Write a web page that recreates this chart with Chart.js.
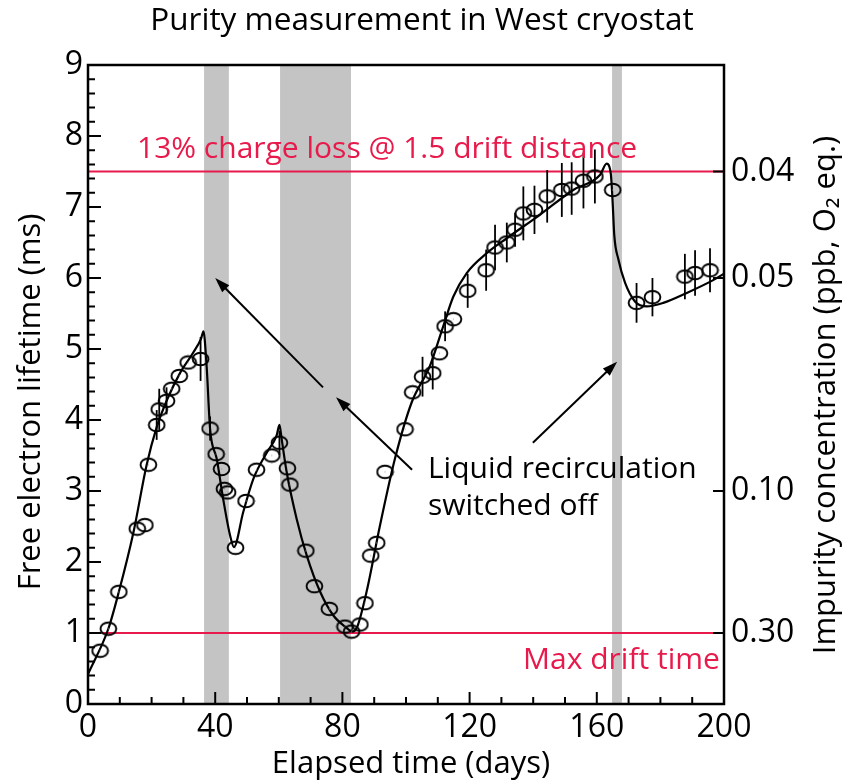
<!DOCTYPE html>
<html lang="en">
<head>
<meta charset="UTF-8">
<title>Purity measurement in West cryostat</title>
<script src="https://cdn.jsdelivr.net/npm/chart.js"></script>
<style>
  html, body { margin: 0; padding: 0; background: #fff; }
  #wrap { width: 848px; height: 781px; }
</style>
</head>
<body>
<div id="wrap"><canvas id="purity"></canvas></div>
<script>
// measured electron lifetime (ms) vs elapsed days, with error bars
const days = [3.8, 6.4, 9.7, 15.5, 17.9, 19.0, 21.6, 22.4, 24.7, 26.3, 28.7, 31.5, 35.4,
  38.4, 40.3, 42.0, 42.9, 43.9, 46.4, 49.7, 53.0, 57.8, 60.2, 62.7, 63.5, 68.5, 71.2, 75.9,
  80.8, 82.9, 85.5, 87.1, 88.9, 90.8, 93.4, 99.7, 102.1, 105.2, 108.4, 110.5, 112.3, 114.9,
  119.4, 125.2, 128.0, 131.7, 134.3, 136.9, 140.4, 144.4, 149.0, 152.1, 155.8, 159.4, 165.0,
  172.5, 177.5, 187.7, 190.9, 195.6];
const lifetime = [0.75, 1.06, 1.58, 2.47, 2.52, 3.37, 3.93, 4.15, 4.27, 4.44, 4.62, 4.81, 4.86,
  3.88, 3.52, 3.31, 3.03, 2.98, 2.20, 2.86, 3.30, 3.50, 3.68, 3.32, 3.09, 2.16, 1.66, 1.34,
  1.09, 1.02, 1.12, 1.42, 2.09, 2.27, 3.27, 3.87, 4.39, 4.61, 4.66, 4.94, 5.32, 5.42,
  5.82, 6.11, 6.43, 6.50, 6.68, 6.91, 6.96, 7.15, 7.24, 7.26, 7.37, 7.43, 7.24,
  5.65, 5.73, 6.02, 6.07, 6.11];
const lifetimeErr = [0, 0, 0, 0, 0, 0, 0.12, 0.2, 0.1, 0, 0, 0, 0.22,
  0.08, 0, 0, 0, 0, 0, 0, 0, 0, 0.08, 0, 0, 0, 0, 0,
  0, 0, 0, 0, 0, 0, 0, 0, 0, 0.19, 0.14, 0, 0.12, 0,
  0.15, 0.2, 0.23, 0.19, 0.15, 0.29, 0.25, 0.28, 0.29, 0.28, 0.3, 0.29, 0,
  0.19, 0.18, 0.23, 0.23, 0.22];

// model curve
const modelDays = [0, 6.4, 9.7, 14.3, 18.4, 21.6, 25, 28.8, 33.1, 35.6, 36.3, 37.3, 38.4, 40.5,
  42.5, 44.7, 45.9, 48.8, 52.0, 56.2, 59.3, 60.2, 60.9, 62.5, 65.6, 68.8, 73.0, 77.1, 81.4, 83,
  84.5, 87.6, 91.8, 96.5, 101.8, 107.5, 111.7, 114.9, 119.1, 125.4, 131.7, 142.1, 152.6, 161.0,
  163.1, 164.4, 165.0, 165.5, 166.8, 168.9, 172.0, 175.7, 180.9, 188.3, 196.6, 200];
const modelLifetime = [0.42, 1.06, 1.58, 2.42, 3.36, 3.9, 4.3, 4.65, 4.95, 5.15, 5.25, 4.76, 3.87, 3.45,
  2.89, 2.37, 2.21, 2.70, 3.17, 3.54, 3.78, 3.93, 3.73, 3.26, 2.61, 2.09, 1.58, 1.25, 1.07, 1.02,
  1.07, 1.58, 2.51, 3.45, 4.25, 4.76, 5.32, 5.74, 6.07, 6.35, 6.56, 6.89, 7.24, 7.45,
  7.61, 7.47, 7.05, 6.6, 6.26, 5.93, 5.67, 5.60, 5.65, 5.79, 5.97, 6.06];

// recirculation switched off (days)
const offStart = [36.5, 60.4, 164.8];
const offEnd = [44.3, 82.7, 167.9];

// right axis: impurity concentration = 0.3 / lifetime
const impurityLabels = ['0.04', '0.05', '0.10', '0.30'];
const impurityAt = [7.5, 6, 3, 1];

const chargeLossLevel = 7.5;
const maxDriftLevel = 1;

const RED = '#e8194b';
const FONT = "'Open Sans', 'Noto Sans', sans-serif";

// open ellipse marker with a faint centre dot
function ellipseMarker() {
  const c = document.createElement('canvas');
  c.width = 19; c.height = 16;
  const g = c.getContext('2d');
  g.strokeStyle = '#000';
  g.lineWidth = 1.9;
  g.beginPath();
  g.ellipse(9.5, 8, 7.9, 6.3, 0, 0, Math.PI * 2);
  g.stroke();
  g.fillStyle = '#999';
  g.fillRect(9, 7.5, 1, 1);
  return c;
}

const backdrop = {
  id: 'backdrop',
  beforeDatasetsDraw(chart) {
    const { ctx, chartArea: a, scales: { x, y } } = chart;
    ctx.save();
    ctx.fillStyle = '#c4c4c4';
    offStart.forEach((s, i) => {
      const x0 = x.getPixelForValue(s), x1 = x.getPixelForValue(offEnd[i]);
      ctx.fillRect(x0, a.top, x1 - x0, a.bottom - a.top);
    });
    ctx.strokeStyle = RED;
    ctx.lineWidth = 2;
    [chargeLossLevel, maxDriftLevel].forEach(v => {
      const py = y.getPixelForValue(v);
      ctx.beginPath();
      ctx.moveTo(a.left, py);
      ctx.lineTo(a.right, py);
      ctx.stroke();
    });
    ctx.restore();
  },
  afterDatasetsDraw(chart) {
    const { ctx, scales: { x, y } } = chart;
    ctx.save();
    ctx.strokeStyle = '#000';
    ctx.lineWidth = 1.8;
    days.forEach((d, i) => {
      const e = lifetimeErr[i];
      if (!e) return;
      const px = x.getPixelForValue(d);
      ctx.beginPath();
      ctx.moveTo(px, y.getPixelForValue(lifetime[i] - e - 0.09));
      ctx.lineTo(px, y.getPixelForValue(lifetime[i] + e + 0.09));
      ctx.stroke();
    });
    ctx.restore();
  }
};

function arrow(ctx, x0, y0, x1, y1) {
  const ang = Math.atan2(y1 - y0, x1 - x0);
  const L = 15, W = 5;
  ctx.beginPath();
  ctx.moveTo(x0, y0);
  ctx.lineTo(x1 - Math.cos(ang) * L * 0.8, y1 - Math.sin(ang) * L * 0.8);
  ctx.stroke();
  ctx.beginPath();
  ctx.moveTo(x1, y1);
  ctx.lineTo(x1 - Math.cos(ang) * L - Math.sin(ang) * W, y1 - Math.sin(ang) * L + Math.cos(ang) * W);
  ctx.lineTo(x1 - Math.cos(ang) * L + Math.sin(ang) * W, y1 - Math.sin(ang) * L - Math.cos(ang) * W);
  ctx.closePath();
  ctx.fill();
}

const frame = {
  id: 'frame',
  afterDraw(chart) {
    const { ctx, chartArea: a, scales: { x, y } } = chart;
    ctx.save();
    // inward ticks
    ctx.strokeStyle = '#000';
    ctx.lineWidth = 2;
    ctx.beginPath();
    for (let d = 10; d < 200; d += 10) {
      const px = x.getPixelForValue(d);
      ctx.moveTo(px, a.bottom);
      ctx.lineTo(px, a.bottom - (d % 40 === 0 ? 12 : 7));
    }
    for (let k = 1; k < 45; k++) {
      const py = y.getPixelForValue(k * 0.2);
      ctx.moveTo(a.left, py);
      ctx.lineTo(a.left + (k % 5 === 0 ? 13 : 7), py);
    }
    impurityAt.forEach(v => {
      const py = y.getPixelForValue(v);
      ctx.moveTo(a.right, py);
      ctx.lineTo(a.right - 11, py);
    });
    ctx.stroke();
    ctx.lineWidth = 2.5;
    ctx.strokeRect(a.left, a.top, a.right - a.left, a.bottom - a.top);

    // arrows
    ctx.fillStyle = '#000';
    ctx.lineWidth = 2;
    const P = (d, v) => [x.getPixelForValue(d), y.getPixelForValue(v)];
    arrow(ctx, ...P(73.9, 4.46), ...P(40.0, 6.0));
    arrow(ctx, ...P(101.9, 3.3), ...P(78.0, 4.32));
    arrow(ctx, ...P(139.9, 3.68), ...P(166.4, 4.82));

    // annotation text
    ctx.textBaseline = 'alphabetic';
    ctx.font = '30px ' + FONT;
    ctx.textAlign = 'left';
    ctx.fillText('Liquid recirculation', ...P(106.9, 3.18));
    ctx.fillText('switched off', ...P(106.9, 2.66));
    ctx.fillStyle = RED;
    ctx.fillText('13% charge loss @ 1.5 drift distance', ...P(15.4, 7.69));
    ctx.textAlign = 'right';
    ctx.fillText('Max drift time', ...P(198.7, 0.5));

    // titles
    ctx.fillStyle = '#000';
    ctx.textAlign = 'center';
    ctx.textBaseline = 'middle';
    ctx.font = '31.5px ' + FONT;
    ctx.fillText('Purity measurement in West cryostat', 422, 21);
    ctx.font = '31px ' + FONT;
    ctx.fillText('Elapsed time (days)', 411, 764);
    ctx.save();
    ctx.translate(31, 402);
    ctx.rotate(-Math.PI / 2);
    ctx.fillText('Free electron lifetime (ms)', 0, 0);
    ctx.restore();
    ctx.save();
    ctx.translate(826, 395);
    ctx.rotate(-Math.PI / 2);
    ctx.fillText('Impurity concentration (ppb, O\u2082 eq.)', 0, 0);
    ctx.restore();
    ctx.restore();
  }
};

new Chart(document.getElementById('purity'), {
  type: 'scatter',
  data: {
    datasets: [{
      label: 'Measured',
      data: days.map((d, i) => ({ x: d, y: lifetime[i] })),
      pointStyle: ellipseMarker(),
      pointRadius: 8,
      showLine: false
    }, {
      type: 'line',
      label: 'Model',
      data: modelDays.map((d, i) => ({ x: d, y: modelLifetime[i] })),
      borderColor: '#000',
      borderWidth: 2.2,
      pointRadius: 0,
      cubicInterpolationMode: 'monotone',
      fill: false
    }]
  },
  options: {
    responsive: true,
    maintainAspectRatio: false,
    animation: false,
    events: [],
    layout: { padding: { top: 65, left: 0, right: 0, bottom: 0 } },
    plugins: { legend: { display: false }, tooltip: { enabled: false } },
    scales: {
      x: {
        type: 'linear', min: 0, max: 200,
        grid: { display: false, drawTicks: false },
        border: { display: false },
        ticks: { stepSize: 40, padding: 5, color: '#000', font: { family: FONT, size: 32 }, maxRotation: 0 },
        afterFit(s) { s.height = 77; }
      },
      y: {
        position: 'left', min: 0, max: 9,
        grid: { display: false, drawTicks: false },
        border: { display: false },
        ticks: { stepSize: 1, padding: 5, color: '#000', font: { family: FONT, size: 32 } },
        afterFit(s) { s.width = 88; }
      },
      y2: {
        position: 'right', min: 0, max: 9,
        grid: { display: false, drawTicks: false },
        border: { display: false },
        afterBuildTicks(s) { s.ticks = impurityAt.map(v => ({ value: v })); },
        ticks: {
          padding: 7, color: '#000', font: { family: FONT, size: 32 },
          callback: (v, i) => impurityLabels[i]
        },
        afterFit(s) { s.width = 124; }
      }
    }
  },
  plugins: [backdrop, frame]
});
</script>
</body>
</html>
